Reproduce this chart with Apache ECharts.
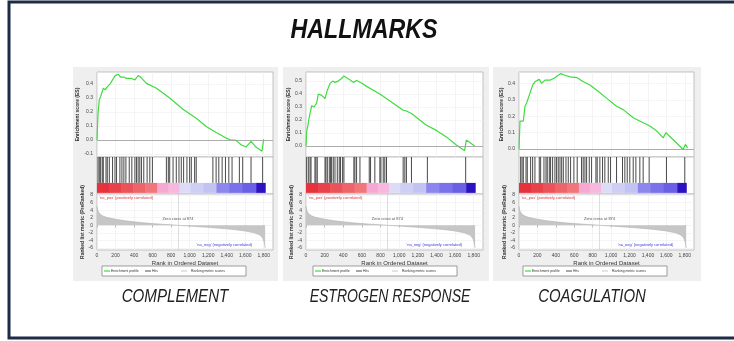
<!DOCTYPE html>
<html>
<head>
<meta charset="utf-8">
<script src="https://cdn.jsdelivr.net/npm/echarts@6/dist/echarts.min.js"></script>
<style>html,body{margin:0;padding:0;background:#fff}#main{width:734px;height:341px}</style>
</head>
<body>
<div id="main"></div>
<script>
var setNames = ['COMPLEMENT', 'ESTROGEN RESPONSE', 'COAGULATION'];

// running enrichment score, [rank, ES]
var esComplement = [[0,0],[11,0.19],[25,0.29],[39,0.31],[55,0.32],[68,0.37],[90,0.36],[111,0.38],[140,0.40],[168,0.43],[197,0.46],[229,0.47],[254,0.45],[290,0.45],[319,0.44],[372,0.44],[409,0.43],[444,0.46],[470,0.45],[534,0.405],[642,0.37],[785,0.30],[928,0.22],[1071,0.156],[1179,0.097],[1286,0.054],[1394,0.014],[1437,0.002],[1458,0.014],[1501,-0.002],[1555,-0.033],[1609,-0.05],[1663,-0.01],[1716,-0.05],[1781,-0.08],[1799,0.005]];
var esEstrogen = [[0,0],[7,0.11],[21,0.16],[29,0.2],[43,0.25],[61,0.31],[86,0.30],[114,0.33],[132,0.40],[168,0.39],[204,0.365],[229,0.43],[257,0.48],[286,0.50],[311,0.49],[346,0.50],[382,0.52],[407,0.54],[436,0.525],[471,0.51],[507,0.49],[543,0.505],[596,0.485],[632,0.467],[650,0.475],[793,0.40],[936,0.33],[1043,0.275],[1078,0.27],[1132,0.25],[1221,0.20],[1293,0.16],[1311,0.173],[1400,0.12],[1507,0.07],[1614,0.008],[1703,-0.036],[1721,0.046],[1811,0.0]];
var esCoagulation = [[0,0],[11,0.17],[29,0.18],[47,0.17],[65,0.26],[83,0.28],[101,0.29],[119,0.34],[148,0.39],[173,0.41],[192,0.40],[220,0.425],[246,0.40],[282,0.42],[336,0.42],[390,0.435],[426,0.45],[452,0.46],[499,0.45],[553,0.44],[632,0.435],[698,0.41],[770,0.39],[842,0.36],[950,0.31],[1059,0.26],[1131,0.24],[1240,0.19],[1348,0.16],[1384,0.15],[1420,0.14],[1493,0.11],[1565,0.067],[1594,0.098],[1709,0.037],[1782,-0.004],[1807,0.027],[1830,0.006]];

// gene set members in the ranked list
var hitsComplement = [11,25,39,57,68,97,111,133,168,194,211,247,269,290,312,348,376,409,426,444,462,480,505,541,570,598,749,770,785,821,856,885,910,935,971,1000,1018,1054,1071,1251,1286,1315,1351,1387,1423,1458,1537,1573,1663,1788];
var hitsEstrogen = [7,25,43,54,96,107,121,204,214,229,250,264,275,293,311,336,357,371,393,407,514,525,543,579,679,693,739,793,804,829,846,864,1043,1061,1078,1132,1303,1714];
var hitsCoagulation = [18,33,47,76,90,126,148,173,220,235,271,293,307,329,343,365,390,408,426,445,463,481,510,535,560,596,632,679,697,716,734,763,788,835,849,878,907,932,969,994,1059,1124,1149,1175,1203,1240,1269,1312,1348,1413,1601,1800];

// ranked list metric (PreRanked), shared by the three sets
var rankedMetric = [[0,5],[10,3.8],[30,3],[60,2.5],[100,2.1],[200,1.6],[300,1.2],[400,0.9],[500,0.65],[600,0.45],[700,0.28],[800,0.12],[874,0],[1000,-0.2],[1100,-0.38],[1200,-0.55],[1300,-0.75],[1400,-0.95],[1500,-1.2],[1600,-1.5],[1700,-2],[1760,-2.6],[1790,-3.4],[1805,-4.5],[1815,-6]];

// heat bar under the hits
var colorStops = [0,130,260,390,520,650,770,890,1010,1150,1290,1430,1570,1720,1815];
var colorbarColors = ['#e5323c','#e8424b','#eb535a','#ee646b','#f0767c','#f5a8d2','#f6b8dc','#dcdcf8','#cfcff6','#c2c2f3','#8c86ee','#7a72ea','#6a60e6','#2c12c0'];

var rankTicks = [0,200,400,600,800,1000,1200,1400,1600,1800];
var esTicks = [[-0.1,0,0.1,0.2,0.3,0.4],[0,0.1,0.2,0.3,0.4,0.5],[0,0.1,0.2,0.3,0.4]];
var metricTicks = [-6,-4,-2,0,2,4,6,8];

var esData = [esComplement, esEstrogen, esCoagulation];
var hitData = [hitsComplement, hitsEstrogen, hitsCoagulation];

var panels = [
  {bg:[73,67,205,214], left:97, right:273, esMin:-0.121, esMax:0.486, legendX:102, cx:175, nameScale:0.84},
  {bg:[283,67,206,214], left:306, right:483, esMin:-0.085, esMax:0.57, legendX:313, cx:390, nameScale:0.78},
  {bg:[493,67,208,214], left:519, right:694, esMin:-0.05, esMax:0.47, legendX:523, cx:592, nameScale:0.83}
];

var smallFont = 'Liberation Sans';
function commas(v) { return String(v).replace(/\B(?=(\d{3})+(?!\d))/g, ','); }

function renderHit(params, api) {
  var top = api.coord([api.value(0), 1]);
  var bot = api.coord([api.value(0), 0.3]);
  return {type:'line', shape:{x1:top[0], y1:top[1], x2:bot[0], y2:bot[1]},
    style:{stroke:'#1a1a1a', lineWidth:0.8}};
}
function renderBand(params, api) {
  var p0 = api.coord([api.value(0), 0.3]);
  var p1 = api.coord([api.value(1), 0.03]);
  return {type:'rect', shape:{x:p0[0], y:p0[1], width:p1[0]-p0[0]+0.6, height:p1[1]-p0[1]},
    style:{fill:colorbarColors[params.dataIndex]}};
}

var bands = [];
for (var b = 0; b < colorStops.length - 1; b++) bands.push([colorStops[b], colorStops[b+1]]);

function tinyLabel(coord, text, color, pos) {
  return {coord:coord, symbol:'circle', symbolSize:1, itemStyle:{color:'rgba(0,0,0,0)'},
    label:{show:true, position:pos, distance:0, formatter:text, fontSize:4, color:color, fontFamily:smallFont}};
}

var grids = [], xAxes = [], yAxes = [], series = [], graphics = [];

graphics.push({type:'rect', z:-5, shape:{x:9, y:2, width:740, height:336},
  style:{fill:null, stroke:'#1d2b47', lineWidth:3}});
graphics.push({type:'text', x:364, y:31, scaleX:0.86, style:{text:'HALLMARKS', fill:'#111',
  fontFamily:'"Liberation Sans", sans-serif', fontSize:27,
  fontWeight:'bold', fontStyle:'italic', align:'center', verticalAlign:'middle'}});

panels.forEach(function (p, i) {
  var w = p.right - p.left;
  graphics.push({type:'rect', z:-4, shape:{x:p.bg[0], y:p.bg[1], width:p.bg[2], height:p.bg[3]},
    style:{fill:'#efefef'}});

  var g = i * 3;
  grids.push({left:p.left, top:72, width:w, height:85, show:true, backgroundColor:'#fff', borderColor:'#b4b4b4', borderWidth:0.8});
  grids.push({left:p.left, top:157, width:w, height:37, show:true, backgroundColor:'#fff', borderColor:'#b4b4b4', borderWidth:0.8});
  grids.push({left:p.left, top:194, width:w, height:56, show:true, backgroundColor:'#fff', borderColor:'#b4b4b4', borderWidth:0.8});

  for (var k = 0; k < 3; k++) {
    xAxes.push({
      type:'value', gridIndex:g + k, min:0, max:1900,
      axisLine:{show:false},
      axisTick:{show:k === 2, length:2, customValues:rankTicks, lineStyle:{color:'#888', width:0.6}},
      axisLabel:{show:k === 2, customValues:rankTicks, formatter:commas, fontSize:5, color:'#444', margin:3, fontFamily:smallFont},
      splitLine:{show:k !== 1, lineStyle:{color:'#ececec', width:0.6}},
      name: k === 2 ? 'Rank in Ordered Dataset' : '',
      nameLocation:'middle', nameGap:10,
      nameTextStyle:{fontSize:6, color:'#333', fontFamily:smallFont}
    });
  }
  yAxes.push({
    type:'value', gridIndex:g, min:p.esMin, max:p.esMax,
    axisLine:{show:false},
    axisTick:{show:false, customValues:esTicks[i]},
    axisLabel:{customValues:esTicks[i], fontSize:5, color:'#444', margin:4, fontFamily:smallFont,
      formatter:function (v) { return v.toFixed(1); }},
    splitLine:{show:true, lineStyle:{color:'#efefef', width:0.6}},
    name:'Enrichment score (ES)', nameLocation:'middle', nameGap:14,
    nameTextStyle:{fontSize:5, fontWeight:'bold', color:'#333', fontFamily:smallFont}
  });
  yAxes.push({type:'value', gridIndex:g + 1, min:0, max:1, show:false, splitLine:{show:false}});
  yAxes.push({
    type:'value', gridIndex:g + 2, min:-6.53, max:8.26,
    axisLine:{show:false},
    axisTick:{show:false, customValues:metricTicks},
    axisLabel:{customValues:metricTicks, fontSize:5, color:'#444', margin:4, fontFamily:smallFont},
    splitLine:{show:true, lineStyle:{color:'#efefef', width:0.6}},
    name:'Ranked list metric (PreRanked)', nameLocation:'middle', nameGap:12,
    nameTextStyle:{fontSize:5, fontWeight:'bold', color:'#333', fontFamily:smallFont}
  });

  series.push({
    name:'Enrichment profile', type:'line', xAxisIndex:g, yAxisIndex:g,
    data:esData[i], showSymbol:false, lineStyle:{color:'#3edc3e', width:1.2},
    markLine:{silent:true, symbol:'none', label:{show:false},
      lineStyle:{color:'#9a9a9a', width:0.8, type:'solid'}, data:[{yAxis:0}]}
  });
  series.push({
    name:'Hits', type:'custom', xAxisIndex:g + 1, yAxisIndex:g + 1,
    data:hitData[i].map(function (h) { return [h, 1]; }),
    encode:{x:0, y:1}, renderItem:renderHit
  });
  series.push({
    name:'bar', type:'custom', xAxisIndex:g + 1, yAxisIndex:g + 1,
    data:bands, encode:{x:[0, 1]}, renderItem:renderBand
  });
  series.push({
    name:'Ranking metric scores', type:'line', xAxisIndex:g + 2, yAxisIndex:g + 2,
    data:rankedMetric, showSymbol:false,
    lineStyle:{color:'#b0b0b0', width:0.6}, areaStyle:{color:'#c6c6c6', opacity:1},
    markLine:{silent:true, symbol:'none', label:{show:false},
      lineStyle:{color:'#c8c8c8', width:0.6, type:'solid'}, data:[{xAxis:874}]},
    markPoint:{silent:true, data:[
      tinyLabel([874, 1.1], 'Zero cross at 874', '#555', 'top'),
      tinyLabel([20, 7.2], "'na_pos' (positively correlated)", '#e0303a', 'right'),
      tinyLabel([1680, -5.1], "'na_neg' (negatively correlated)", '#3a3ae0', 'left')
    ]}
  });

  // legend box
  var lx = p.legendX, ly = 266;
  var legendText = {fontSize:4.4, fill:'#333', fontFamily:smallFont, verticalAlign:'middle'};
  graphics.push({type:'rect', shape:{x:lx, y:ly, width:144, height:10}, style:{fill:'#fff', stroke:'#777', lineWidth:0.7}});
  graphics.push({type:'line', shape:{x1:lx + 2, y1:ly + 5, x2:lx + 8, y2:ly + 5}, style:{stroke:'#3edc3e', lineWidth:1.2}});
  graphics.push({type:'text', x:lx + 9, y:ly + 5, scaleX:0.78, style:Object.assign({text:'Enrichment profile'}, legendText)});
  graphics.push({type:'line', shape:{x1:lx + 43, y1:ly + 5, x2:lx + 49, y2:ly + 5}, style:{stroke:'#222', lineWidth:0.8}});
  graphics.push({type:'text', x:lx + 50, y:ly + 5, scaleX:0.78, style:Object.assign({text:'Hits'}, legendText)});
  graphics.push({type:'line', shape:{x1:lx + 79, y1:ly + 5, x2:lx + 85, y2:ly + 5}, style:{stroke:'#bbb', lineWidth:0.8}});
  graphics.push({type:'text', x:lx + 89, y:ly + 5, scaleX:0.78, style:Object.assign({text:'Ranking metric scores'}, legendText)});

  graphics.push({type:'text', x:p.cx, y:297, scaleX:p.nameScale, style:{text:setNames[i], fill:'#222',
    fontFamily:'"Liberation Sans", sans-serif', fontSize:18,
    fontStyle:'italic', align:'center', verticalAlign:'middle'}});
});

var chart = echarts.init(document.getElementById('main'));
chart.setOption({
  animation:false,
  backgroundColor:'#fff',
  grid:grids,
  xAxis:xAxes,
  yAxis:yAxes,
  series:series,
  graphic:{elements:graphics}
});
</script>
</body>
</html>
